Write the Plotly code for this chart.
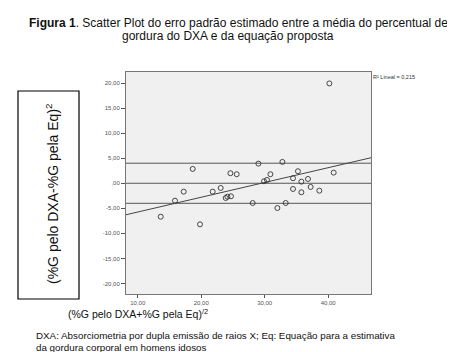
import numpy as np
import plotly.graph_objects as go

# ---- data ----
media_pct = [18.66, 24.60, 25.59, 17.24, 21.81, 23.07, 15.87, 23.86, 24.13, 24.69,
             13.62, 19.81, 29.01, 32.79, 30.90, 35.24, 40.87, 29.89, 30.36, 34.46,
             35.78, 36.82, 34.46, 37.24, 35.78, 38.61, 28.11, 33.31, 32.00, 40.19]
erro_pct = [2.86, 2.00, 1.80, -1.68, -1.68, -0.94, -3.48, -2.94, -2.68, -2.60,
            -6.68, -8.20, 3.92, 4.26, 1.80, 2.40, 2.12, 0.40, 0.66, 1.00,
            0.32, 0.86, -1.14, -0.74, -1.80, -1.48, -3.94, -3.94, -4.94, 19.92]
ref_lines = [4.0, 0.0, -4.0]
y_ticks = [20, 15, 10, 5, 0, -5, -10, -15, -20]
y_tick_text = ["20,00", "15,00", "10,00", "5,00", ",00", "-5,00", "-10,00", "-15,00", "-20,00"]
x_ticks = [10, 20, 30, 40]
x_tick_text = ["10,00", "20,00", "30,00", "40,00"]
r2_label = "R² Lineal = 0,215"

X_RANGE = [8.15, 46.75]
Y_RANGE = [-22.1, 22.2]

W, H = 455, 352
L, R, T, B = 118, 363, 64, 286


def px(xp):
    return (xp - L) / (R - L)


def py(yp):
    return (B - yp) / (B - T)


slope, intercept = np.polyfit(media_pct, erro_pct, 1)
fit_x = np.array(X_RANGE)
fit_y = intercept + slope * fit_x

fig = go.Figure()
for v in ref_lines:
    fig.add_trace(go.Scatter(x=X_RANGE, y=[v, v], mode="lines",
                             line=dict(color="#555555", width=1), hoverinfo="skip",
                             showlegend=False))
fig.add_trace(go.Scatter(x=fit_x, y=fit_y, mode="lines",
                         line=dict(color="#444444", width=1), showlegend=False))
fig.add_trace(go.Scatter(x=media_pct, y=erro_pct, mode="markers",
                         marker=dict(symbol="circle-open", size=5, color="#333333",
                                     line=dict(width=0.9)),
                         showlegend=False))

axis_font = dict(family="Liberation Sans, Arial", size=6, color="#555555")
fig.update_xaxes(range=X_RANGE, tickvals=x_ticks, ticktext=x_tick_text,
                 showgrid=False, zeroline=False, showline=True, linecolor="#777777",
                 linewidth=1, mirror=True, ticks="outside", ticklen=3, tickcolor="#555555",
                 tickfont=axis_font)
fig.update_yaxes(range=Y_RANGE, tickvals=y_ticks, ticktext=y_tick_text,
                 showgrid=False, zeroline=False, showline=True, linecolor="#777777",
                 linewidth=1, mirror=True, ticks="outside", ticklen=4, tickcolor="#555555",
                 tickfont=axis_font)

txt = "Liberation Sans, Arial"
annotations = [
    dict(text="<b>Figura 1</b>. Scatter Plot do erro padrão estimado entre a média do percentual de",
         x=px(19), y=py(15), xref="paper", yref="paper", showarrow=False,
         xanchor="left", yanchor="middle", font=dict(family=txt, size=12, color="#111111")),
    dict(text="gordura do DXA e da equação proposta",
         x=px(220), y=py(28.5), xref="paper", yref="paper", showarrow=False,
         xanchor="center", yanchor="middle", font=dict(family=txt, size=12, color="#111111")),
    dict(text="(%G pelo DXA-%G pela Eq)<sup>2</sup>",
         x=px(44), y=py(186), xref="paper", yref="paper", showarrow=False, textangle=-90,
         xanchor="center", yanchor="middle", font=dict(family=txt, size=14, color="#111111")),
    dict(text="(%G pelo DXA+%G pela Eq)<sup>/2</sup>",
         x=px(58), y=py(305), xref="paper", yref="paper", showarrow=False,
         xanchor="left", yanchor="middle", font=dict(family=txt, size=10.5, color="#111111")),
    dict(text="DXA: Absorciometria por dupla emissão de raios X; Eq: Equação para a estimativa",
         x=px(26), y=py(327), xref="paper", yref="paper", showarrow=False,
         xanchor="left", yanchor="middle", font=dict(family=txt, size=9.8, color="#111111")),
    dict(text="da gordura corporal em homens idosos",
         x=px(26), y=py(339), xref="paper", yref="paper", showarrow=False,
         xanchor="left", yanchor="middle", font=dict(family=txt, size=9.8, color="#111111")),
    dict(text=r2_label,
         x=px(363), y=py(68.5), xref="paper", yref="paper", showarrow=False,
         xanchor="left", yanchor="middle", font=dict(family=txt, size=5.5, color="#333333")),
]

shapes = [
    dict(type="rect", xref="paper", yref="paper", x0=px(10), x1=px(71), y0=py(83), y1=py(291),
         line=dict(color="#000000", width=1.2), fillcolor="rgba(0,0,0,0)"),
]

fig.update_layout(width=W, height=H, margin=dict(l=L, r=W - R, t=T, b=H - B),
                  plot_bgcolor="#f0f0f0", paper_bgcolor="#ffffff",
                  annotations=annotations, shapes=shapes, showlegend=False)

fig.write_html("out.html")
